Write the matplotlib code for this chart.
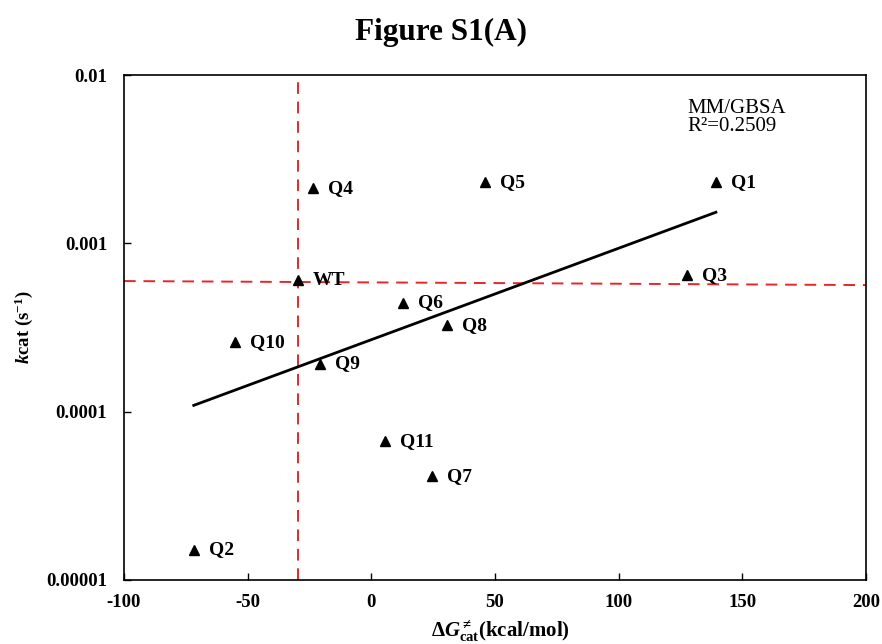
import numpy as np
import matplotlib
matplotlib.use("Agg")
import matplotlib.pyplot as plt

plt.rcParams['font.family'] = ['Liberation Serif', 'DejaVu Serif']
plt.rcParams['mathtext.fontset'] = 'custom'
plt.rcParams['mathtext.rm'] = 'Liberation Serif:bold'
plt.rcParams['mathtext.bf'] = 'Liberation Serif:bold'
plt.rcParams['mathtext.it'] = 'Liberation Serif:bold:italic'

# values
labels = ['Q1', 'Q2', 'Q3', 'Q4', 'Q5', 'Q6', 'Q7', 'Q8', 'Q9', 'Q10', 'Q11', 'WT']
dg_cat = [139.3, -71.8, 127.5, -23.7, 45.9, 12.7, 24.5, 30.5, -20.8, -55.2, 5.5, -29.7]
kcat = [0.00231, 0.0000151, 0.000648, 0.00213, 0.00231, 0.000442, 0.0000414,
        0.000327, 0.000192, 0.000259, 0.0000669, 0.000605]

# reference cross-hair through WT (horizontal one is slightly tilted in the original)
wt_x = -29.5
h_line_x = [-100, 200]
h_line_y = [0.000597, 0.000565]

# exponential trend line end points
trend_x = [-71.8, 139.3]
trend_y = [0.000109, 0.00153]

yticks = [0.00001, 0.0001, 0.001, 0.01]
ytick_labels = ['0.00001', '0.0001', '0.001', '0.01']
xticks = [-100, -50, 0, 50, 100, 150, 200]

fig = plt.figure(figsize=(8.82, 6.44), dpi=100)
ax = fig.add_axes([0.1406, 0.0994, 0.8413, 0.7841])

ax.set_yscale('log')
ax.set_xlim(-100, 200)
ax.set_ylim(0.00001, 0.01)

ax.plot([wt_x, wt_x], [0.00001, 0.01], color='#e8262a', ls=(0, (6, 4)), lw=1.4, zorder=1)
ax.plot(h_line_x, h_line_y, color='#e8262a', ls=(0, (6, 4)), lw=1.4, zorder=1)
ax.plot(trend_x, trend_y, color='black', lw=2, zorder=2)

ax.plot(dg_cat, kcat, ls='none', marker='^', color='black', markersize=7, zorder=3)
for lab, x, y in zip(labels, dg_cat, kcat):
    ax.annotate(lab, (x, y), xytext=(11, 0), textcoords='offset points',
                ha='left', va='center', fontsize=14, fontweight='bold')

# R2 box text (two lines, placed separately to control spacing)
ax.text(0.759, 0.925, 'MM/GBSA', transform=ax.transAxes,
        ha='left', va='baseline', fontsize=15)
ax.text(0.759, 0.889, 'R²=0.2509', transform=ax.transAxes,
        ha='left', va='baseline', fontsize=15)

ax.set_xticks(xticks)
ax.set_xticklabels([str(t) for t in xticks], fontsize=13.5, fontweight='bold')
ax.yaxis.set_major_locator(matplotlib.ticker.FixedLocator(yticks))
ax.yaxis.set_minor_locator(matplotlib.ticker.NullLocator())
ax.set_yticklabels(ytick_labels, fontsize=13.5, fontweight='bold')
ax.tick_params(direction='in', length=5, width=1, pad=10)
ax.tick_params(axis='y', pad=12)

for sp in ax.spines.values():
    sp.set_linewidth(1.2)

ax.set_ylabel(r'$k$cat (s$^{\mathbf{-1}}$)', fontsize=13.5, fontweight='bold')
ax.yaxis.set_label_coords(-0.12, 0.5)
ax.set_xlabel(r'$\Delta G^{\neq}_{\mathrm{cat}}$(kcal/mol)', fontsize=15, fontweight='bold')
ax.xaxis.label.set_va('baseline')
ax.xaxis.set_label_coords(0.507, -0.113)

fig.text(0.5, 1 - 40 / 644, 'Figure S1(A)', ha='center', va='baseline',
         fontsize=22.5, fontweight='bold')

fig.savefig('out.png', dpi=100)
